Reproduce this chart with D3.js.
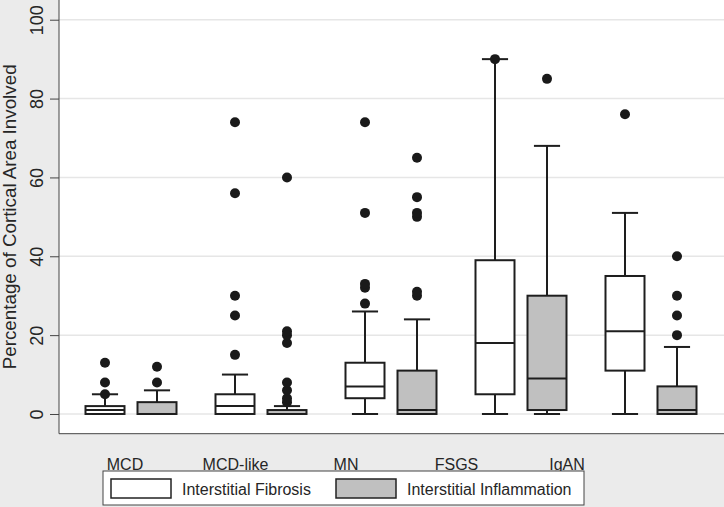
<!DOCTYPE html>
<html><head><meta charset="utf-8">
<script src="https://cdn.jsdelivr.net/npm/d3@7"></script>
<style>body{margin:0;background:#ebebeb;}svg{display:block;font-family:"Liberation Sans",Arial,sans-serif;}</style>
</head><body>
<svg id="c" width="724" height="507"></svg>
<script>
const categories = ["MCD","MCD-like","MN","FSGS","IgAN"];
const seriesNames = ["Interstitial Fibrosis","Interstitial Inflammation"];
const yTicks = [0,20,40,60,80,100];

// Interstitial Fibrosis
const fibLo  = [0, 0, 0, 0, 0];
const fibQ1  = [0, 0, 4, 5, 11];
const fibMed = [1, 2, 7, 18, 21];
const fibQ3  = [2, 5, 13, 39, 35];
const fibHi  = [5, 10, 26, 90, 51];
const fibOut = [[5,8,13],[15,25,30,56,74],[28,32,33,51,74],[90],[76]];

// Interstitial Inflammation
const infLo  = [0, 0, 0, 0, 0];
const infQ1  = [0, 0, 0, 1, 0];
const infMed = [0, 0, 1, 9, 1];
const infQ3  = [3, 1, 11, 30, 7];
const infHi  = [6, 2, 24, 68, 17];
const infOut = [[8,12],[3,4,6,8,18,20,21,60],[30,31,50,51,55,65],[85],[20,25,30,40]];

const fills = ["#ffffff","#c0c0c0"];
const svg = d3.select("#c");
const W = 724, H = 507;
const plot = {l:59, t:0, r:724, b:433.7};
const txt = "#262626";

svg.append("rect").attr("width",W).attr("height",H).attr("fill","#ebebeb");
svg.append("rect").attr("x",plot.l).attr("y",plot.t).attr("width",plot.r-plot.l).attr("height",plot.b-plot.t).attr("fill","#ffffff");

const y = d3.scaleLinear().domain([-5,105]).range([plot.b, plot.t]);
const xg = d3.scaleBand().domain(categories).range([66,716]);
const xs = d3.scaleBand().domain(seriesNames).range([13,117]);
const xl = d3.scalePoint().domain(categories).range([125,567]);

// grid
svg.append("g").selectAll("line").data(yTicks).join("line")
  .attr("x1",plot.l).attr("x2",plot.r).attr("y1",d=>y(d)).attr("y2",d=>y(d))
  .attr("stroke","#e6e6e6").attr("stroke-width",1.5);

// y axis
const yAxis = d3.axisLeft(y).tickValues(yTicks).tickSize(9).tickPadding(0);
const ga = svg.append("g").attr("transform",`translate(${plot.l},0)`).call(yAxis);
ga.select(".domain").remove();
ga.selectAll(".tick line").attr("stroke","#444").attr("stroke-width",1);
ga.selectAll(".tick text").attr("transform","rotate(-90)").attr("text-anchor","middle")
  .attr("x",0).attr("y",-16).attr("dy","0").attr("font-size",18).attr("fill",txt)
  .style("font-family","'Liberation Sans',Arial,sans-serif");
svg.append("line").attr("x1",plot.l).attr("x2",plot.l).attr("y1",plot.t).attr("y2",plot.b).attr("stroke","#444").attr("stroke-width",1);
svg.append("line").attr("x1",plot.l).attr("x2",plot.r).attr("y1",plot.b).attr("y2",plot.b).attr("stroke","#444").attr("stroke-width",1);

svg.append("text").attr("transform",`translate(15.5,${(plot.t+plot.b)/2}) rotate(-90)`)
  .attr("text-anchor","middle").attr("font-size",18.8).attr("fill",txt)
  .text("Percentage of Cortical Area Involved");

// category labels
svg.append("g").selectAll("text").data(categories).join("text")
  .attr("x",d=>xl(d)).attr("y",470).attr("text-anchor","middle")
  .attr("font-size",16).attr("fill",txt).text(d=>d);

// boxes
const sets = [
  {name:seriesNames[0], lo:fibLo,q1:fibQ1,med:fibMed,q3:fibQ3,hi:fibHi,out:fibOut,fill:fills[0]},
  {name:seriesNames[1], lo:infLo,q1:infQ1,med:infMed,q3:infQ3,hi:infHi,out:infOut,fill:fills[1]}
];
const bw = xs.bandwidth()*0.75, cw = bw*0.67;
const stroke = "#1e1e1e", sw = 2;
sets.forEach(s=>{
  categories.forEach((c,i)=>{
    const cx = xg(c)+xs(s.name)+xs.bandwidth()/2;
    const g = svg.append("g");
    if (s.hi[i] > s.q3[i]) {
      g.append("line").attr("x1",cx).attr("x2",cx).attr("y1",y(s.q3[i])).attr("y2",y(s.hi[i])).attr("stroke",stroke).attr("stroke-width",sw);
    }
    g.append("line").attr("x1",cx-cw/2).attr("x2",cx+cw/2).attr("y1",y(s.hi[i])).attr("y2",y(s.hi[i])).attr("stroke",stroke).attr("stroke-width",sw);
    if (s.q1[i] > s.lo[i]) {
      g.append("line").attr("x1",cx).attr("x2",cx).attr("y1",y(s.q1[i])).attr("y2",y(s.lo[i])).attr("stroke",stroke).attr("stroke-width",sw);
    }
    g.append("line").attr("x1",cx-cw/2).attr("x2",cx+cw/2).attr("y1",y(s.lo[i])).attr("y2",y(s.lo[i])).attr("stroke",stroke).attr("stroke-width",sw);
    g.append("rect").attr("x",cx-bw/2).attr("width",bw)
      .attr("y",y(s.q3[i])).attr("height",y(s.q1[i])-y(s.q3[i]))
      .attr("fill",s.fill).attr("stroke",stroke).attr("stroke-width",sw);
    g.append("line").attr("x1",cx-bw/2).attr("x2",cx+bw/2).attr("y1",y(s.med[i])).attr("y2",y(s.med[i])).attr("stroke",stroke).attr("stroke-width",sw);
    g.selectAll("circle").data(s.out[i]).join("circle")
      .attr("cx",cx).attr("cy",d=>y(d)).attr("r",5).attr("fill","#1a1a1a");
  });
});

// legend
const lg = svg.append("g");
lg.append("rect").attr("x",103).attr("y",471).attr("width",481).attr("height",34)
  .attr("fill","#ffffff").attr("stroke","#444").attr("stroke-width",1);
const lx = [111, 336];
seriesNames.forEach((n,i)=>{
  lg.append("rect").attr("x",lx[i]).attr("y",479).attr("width",60).attr("height",19)
    .attr("fill",fills[i]).attr("stroke","#222").attr("stroke-width",1.5);
  lg.append("text").attr("x",lx[i]+71).attr("y",495).attr("font-size",16).attr("fill",txt).text(n);
});
</script>
</body></html>
